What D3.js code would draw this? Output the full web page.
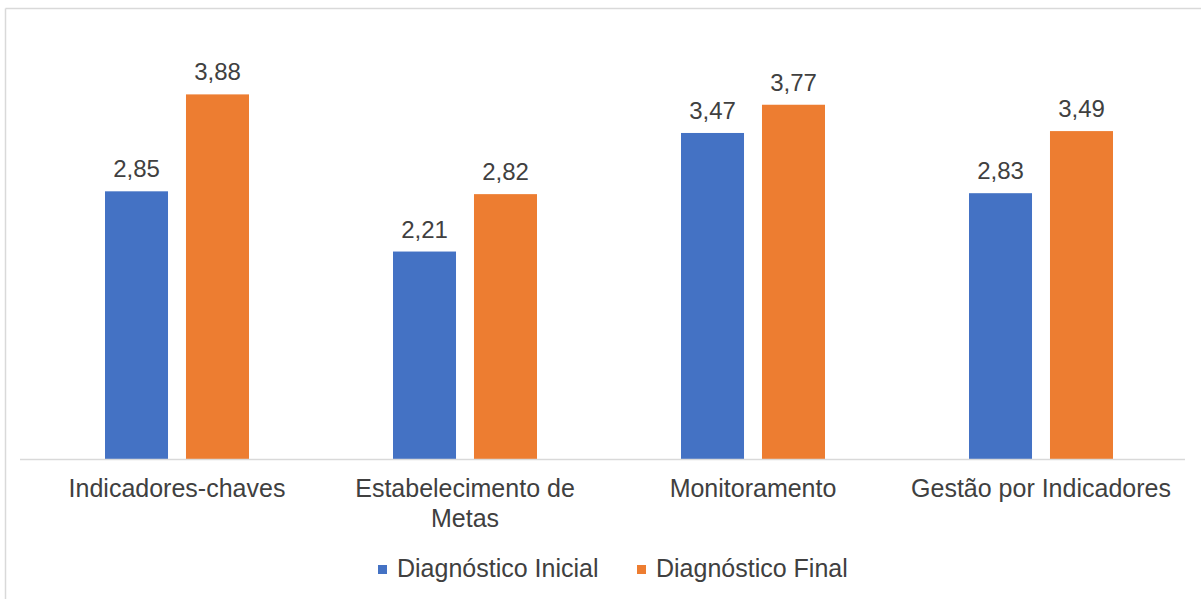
<!DOCTYPE html>
<html>
<head>
<meta charset="utf-8">
<script src="https://cdn.jsdelivr.net/npm/d3@7"></script>
<style>
  html, body { margin: 0; padding: 0; background: #fff; }
  svg { display: block; }
  text { font-family: "Liberation Sans", Arial, sans-serif; fill: #404040; }
</style>
</head>
<body>
<svg id="chart" width="1201" height="599"></svg>
<script>
const categories = [["Indicadores-chaves"], ["Estabelecimento de", "Metas"], ["Monitoramento"], ["Gestão por Indicadores"]];
const seriesNames = ["Diagnóstico Inicial", "Diagnóstico Final"];
const inicial = [2.85, 2.21, 3.47, 2.83];
const final = [3.88, 2.82, 3.77, 3.49];
const colors = ["#4472C4", "#ED7D31"];

const svg = d3.select("#chart");
const W = 1201, H = 599;

// outer border (top and left visible)
svg.append("line").attr("x1", 5.5).attr("x2", W).attr("y1", 8.5).attr("y2", 8.5)
  .attr("stroke", "#d9d9d9").attr("stroke-width", 1.5);
svg.append("line").attr("x1", 5.5).attr("x2", 5.5).attr("y1", 8.5).attr("y2", H)
  .attr("stroke", "#d9d9d9").attr("stroke-width", 1.5);

const left = 33, right = 1185, baseY = 459.5;
const x0 = d3.scaleBand().domain(d3.range(categories.length)).range([left, right]).paddingInner(0).paddingOuter(0);
const x1 = d3.scaleBand().domain([0, 1]).range([0, x0.bandwidth()]).paddingInner(0.222).paddingOuter(0.889);
const y = d3.scaleLinear().domain([0, 4.5]).range([baseY, baseY - 4.5 * 94.1]);

const data = categories.map((c, i) => ({ i, vals: [inicial[i], final[i]] }));
const g = svg.selectAll("g.grp").data(data).join("g").attr("class", "grp")
  .attr("transform", d => `translate(${x0(d.i)},0)`);

g.selectAll("rect").data(d => d.vals.map((v, k) => ({ v, k }))).join("rect")
  .attr("x", d => x1(d.k))
  .attr("width", x1.bandwidth())
  .attr("y", d => y(d.v))
  .attr("height", d => baseY - y(d.v))
  .attr("fill", d => colors[d.k]);

g.selectAll("text.val").data(d => d.vals.map((v, k) => ({ v, k }))).join("text")
  .attr("class", "val")
  .attr("x", d => x1(d.k) + x1.bandwidth() / 2)
  .attr("y", d => y(d.v) - 14)
  .attr("text-anchor", "middle")
  .attr("font-size", 24)
  .text(d => d3.format(".2f")(d.v).replace(".", ","));

// x axis
const xAxis = svg.append("g").attr("transform", `translate(0,${baseY})`)
  .call(d3.axisBottom(x0).tickSize(0).tickFormat(""));
xAxis.select(".domain").attr("d", `M20,0H${right}`).attr("stroke", "#d9d9d9").attr("stroke-width", 1.5);

categories.forEach((lines, i) => {
  const t = svg.append("text")
    .attr("x", x0(i) + x0.bandwidth() / 2)
    .attr("y", 497)
    .attr("text-anchor", "middle")
    .attr("font-size", 25);
  lines.forEach((ln, j) => {
    t.append("tspan").attr("x", x0(i) + x0.bandwidth() / 2).attr("dy", j === 0 ? 0 : 30).text(ln);
  });
});

// legend
const legendItems = [{ x: 378, name: seriesNames[0], c: colors[0] }, { x: 637, name: seriesNames[1], c: colors[1] }];
legendItems.forEach(it => {
  svg.append("rect").attr("x", it.x).attr("y", 565).attr("width", 9).attr("height", 9).attr("fill", it.c);
  svg.append("text").attr("x", it.x + 19).attr("y", 577).attr("font-size", 25).text(it.name);
});
</script>
</body>
</html>
